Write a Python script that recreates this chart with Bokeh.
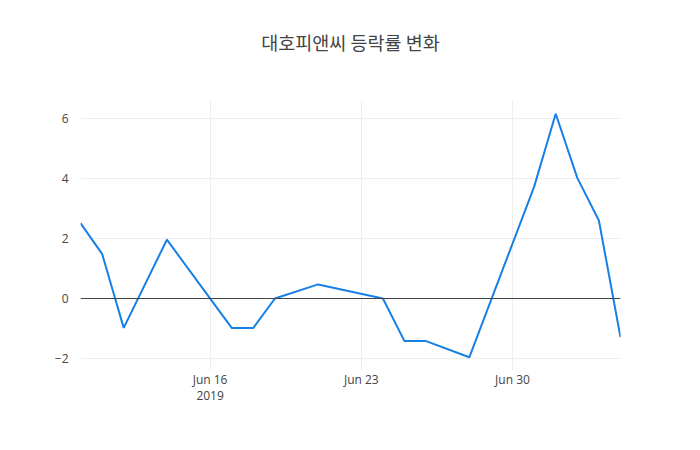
from datetime import datetime
from bokeh.plotting import figure
from bokeh.models import Range1d, FixedTicker, Span, ColumnDataSource, LinearAxis
from bokeh.embed import file_html
from bokeh.resources import INLINE

dates = ["2019-06-10", "2019-06-11", "2019-06-12", "2019-06-14", "2019-06-17",
         "2019-06-18", "2019-06-19", "2019-06-21", "2019-06-24", "2019-06-25",
         "2019-06-26", "2019-06-28", "2019-07-01", "2019-07-02", "2019-07-03",
         "2019-07-04", "2019-07-05"]
rates = [2.51, 1.49, -0.98, 1.96, -0.98, -0.98, 0.0, 0.47, 0.0, -1.42,
         -1.42, -1.96, 3.72, 6.16, 4.02, 2.60, -1.29]
title_text = "대호피앤씨 등락률 변화"
x_tick_dates = ["2019-06-16", "2019-06-23", "2019-06-30"]
x_tick_labels = ["Jun 16\n2019", "Jun 23", "Jun 30"]
y_ticks = [-2, 0, 2, 4, 6]
y_tick_labels = ["−2", "0", "2", "4", "6"]


def ms(s):
    return datetime.strptime(s, "%Y-%m-%d").timestamp() * 1000.0


xs = [ms(d) for d in dates]
src = ColumnDataSource(dict(x=xs, y=rates))

p = figure(width=700, height=450, output_backend="svg", toolbar_location=None,
           x_range=Range1d(xs[0], xs[-1]), y_range=Range1d(-2.4, 6.6),
           min_border_left=80, min_border_right=80, min_border_top=100,
           min_border_bottom=80)
p.title.visible = False
p.outline_line_color = None
p.background_fill_color = "white"
p.border_fill_color = "white"

p.line("x", "y", source=src, line_color="#1680e6", line_width=2)
p.add_layout(Span(location=0, dimension="width", line_color="#444444", line_width=1))

xt = [ms(d) for d in x_tick_dates]
xaxis = p.below[0]
yaxis = p.left[0]
xaxis.ticker = FixedTicker(ticks=xt)
xaxis.major_label_overrides = {t: l for t, l in zip(xt, x_tick_labels)}
yaxis.ticker = FixedTicker(ticks=y_ticks)
yaxis.major_label_overrides = {t: l for t, l in zip(y_ticks, y_tick_labels)}

for ax in (xaxis, yaxis):
    ax.axis_line_color = None
    ax.major_tick_line_color = None
    ax.minor_tick_line_color = None
    ax.major_tick_out = 0
    ax.major_tick_in = 0
    ax.major_label_text_font = "Open Sans"
    ax.major_label_text_font_size = "12px"
    ax.major_label_text_color = "#444444"
xaxis.major_label_standoff = 0
xaxis.major_label_text_line_height = 0.95
yaxis.major_label_standoff = 12

# chart title drawn as the label of an empty axis above the frame
title_axis = LinearAxis(ticker=FixedTicker(ticks=[]), axis_label=title_text,
                        axis_line_color=None, major_tick_line_color=None,
                        minor_tick_line_color=None, major_tick_out=0, major_tick_in=0,
                        major_label_standoff=0,
                        axis_label_standoff=46,
                        axis_label_text_font="Noto Sans CJK KR",
                        axis_label_text_font_size="18.5px",
                        axis_label_text_font_style="normal",
                        axis_label_text_color="#444444")
p.add_layout(title_axis, "above")

p.xgrid.ticker = FixedTicker(ticks=xt)
p.ygrid.ticker = FixedTicker(ticks=y_ticks)
p.xgrid.grid_line_color = "#eeeeee"
p.ygrid.grid_line_color = "#eeeeee"

open("out.html", "w").write(file_html(p, INLINE))
